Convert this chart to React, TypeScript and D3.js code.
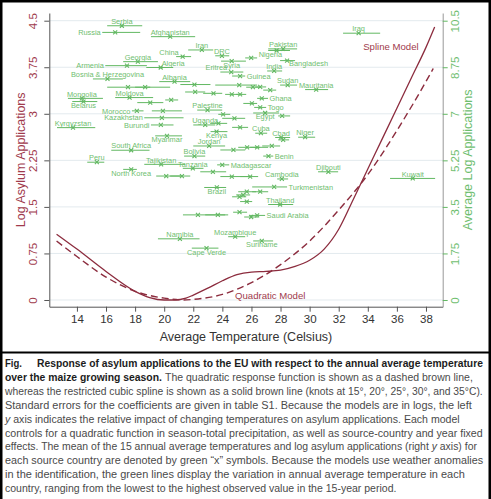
import { useRef, useEffect } from 'react';
import * as d3 from 'd3';

/* ── Source countries: mean & range of annual temperature, mean log applications ── */
const countryNames = [
  "Serbia", "Russia", "Afghanistan", "Iran", "China", "DRC", "Georgia", "Armenia",
  "Algeria", "Syria", "Eritrea", "Guinea", "Pakistan", "Nigeria", "Bangladesh", "India",
  "Sudan", "Mauritania", "Bosnia & Herzegovina", "Albania", "Mongolia", "Belarus", "Moldova",
  "Morocco", "Palestine", "Kazakhstan", "Uganda", "Kyrgyzstan", "Burundi", "Myanmar", "Kenya",
  "Jordan", "South Africa", "Bolivia", "Peru", "Tajikistan", "Tanzania", "North Korea",
  "Madagascar", "Benin", "Djibouti", "Cambodia", "Kuwait", "Iraq", "Turkmenistan", "Brazil",
  "Thailand", "Saudi Arabia", "Namibia", "Mozambique", "Suriname", "Cape Verde", "Ghana",
  "Togo", "Egypt", "Cuba", "Chad", "Niger",
  // unlabelled countries
  "", "", "", "", "", "", "", "", "", "", "", "", "", "", "", "", "", "", "", "",
  "", "", "", "", "", "", "", "", "", "", "", "", "", "", "", "", "", "", "", "",
];

const meanTemp = [
  17.09, 16.63, 20.41, 22.59, 21.27, 23.97, 18.19, 17.44,
  19.76, 24.64, 24.61, 25.22, 28.18, 25.98, 28.45, 27.56,
  28.49, 30.45, 16.10, 20.71, 14.34, 14.45, 17.62,
  18.12, 22.98, 19.84, 22.82, 13.73, 19.77, 20.19, 23.60,
  23.09, 17.73, 22.08, 15.37, 19.79, 21.97, 17.73,
  23.99, 27.17, 31.29, 28.09, 37.09, 33.37, 27.56, 23.62,
  27.97, 26.39, 21.08, 24.88, 26.71, 22.91, 26.71,
  26.60, 26.94, 26.65, 28.04, 29.69,
  22.08, 25.16, 26.10, 26.60, 27.29, 17.51, 18.69, 22.13, 23.39, 24.65,
  25.22, 19.04, 20.48, 26.03, 19.91, 24.05, 24.83, 28.11, 23.73, 25.22,
  28.18, 24.76, 25.70, 26.39, 27.40, 23.35, 20.14, 21.22, 24.65, 25.91,
  25.68, 26.60, 25.43, 25.18, 25.68, 25.18, 22.32, 23.69, 25.98, 27.73,
];

const lowTemp = [
  16.08, 15.74, 19.09, 21.65, 20.82, 23.51, 17.18, 15.95,
  18.77, 23.91, 23.86, 24.67, 27.15, 25.57, 27.97, 27.08,
  27.97, 29.69, 15.10, 19.66, 13.38, 13.68, 16.63,
  17.78, 22.27, 18.63, 22.00, 12.63, 19.09, 19.38, 23.19,
  22.00, 16.36, 21.37, 14.71, 18.63, 21.28, 17.18,
  23.64, 26.81, 30.58, 27.77, 35.53, 32.30, 26.05, 22.75,
  27.15, 25.91, 19.57, 24.40, 26.12, 21.90, 26.39,
  26.19, 26.12, 26.26, 27.63, 29.21,
  21.11, 23.51, 25.64, 26.26, 26.81, 16.08, 18.00, 21.44, 22.68, 24.19,
  24.95, 18.15, 20.07, 25.44, 19.15, 23.72, 23.99, 27.84, 23.16, 24.67,
  27.84, 23.86, 25.09, 25.91, 26.74, 22.48, 19.45, 20.41, 23.86, 25.22,
  25.09, 26.05, 24.95, 24.67, 25.22, 24.74, 21.29, 22.82, 25.50, 27.15,
];

const highTemp = [
  18.49, 18.35, 22.13, 23.37, 21.85, 24.47, 19.57, 18.81,
  20.62, 25.62, 25.44, 25.57, 29.14, 26.39, 29.00, 28.11,
  29.14, 31.27, 17.16, 21.79, 15.79, 15.40, 19.24,
  18.58, 23.99, 21.33, 23.51, 15.26, 20.64, 21.22, 24.35,
  24.19, 18.99, 22.82, 15.88, 21.44, 22.70, 18.12,
  24.47, 27.50, 31.96, 28.52, 38.63, 34.85, 28.45, 24.26,
  28.87, 26.94, 22.43, 25.57, 27.49, 23.73, 27.14,
  27.01, 27.90, 27.08, 28.66, 30.38,
  23.18, 26.39, 26.60, 27.01, 27.70, 19.04, 20.41, 22.82, 23.99, 25.09,
  25.64, 19.94, 20.96, 26.39, 21.22, 24.54, 25.57, 28.66, 24.33, 25.77,
  28.59, 25.57, 26.60, 27.15, 27.97, 24.26, 21.22, 21.79, 25.77, 26.46,
  26.32, 27.15, 25.91, 25.64, 26.05, 25.70, 24.19, 24.40, 26.46, 28.65,
];

const meanLogApps = [
  10.31, 10.06, 9.90, 9.40, 9.15, 9.18, 8.96, 8.81,
  8.74, 8.98, 8.57, 8.42, 9.44, 9.10, 9.00, 8.61,
  8.08, 7.91, 8.31, 8.21, 7.58, 7.46, 7.61,
  7.11, 7.14, 6.85, 6.58, 6.48, 6.58, 6.17, 6.33,
  5.79, 5.63, 5.41, 5.18, 5.10, 4.95, 4.91,
  5.08, 5.41, 4.82, 4.55, 4.57, 10.03, 4.25, 4.23,
  3.59, 3.18, 2.30, 2.38, 2.22, 1.95, 7.58,
  7.24, 7.03, 6.27, 6.11, 6.12,
  8.10, 8.08, 8.00, 8.01, 7.89, 8.00, 8.00, 7.82, 7.77, 7.73,
  7.73, 7.42, 7.52, 7.39, 7.11, 6.98, 6.83, 6.92, 6.64, 6.49,
  6.02, 5.64, 5.74, 5.74, 5.79, 4.82, 4.66, 4.66, 4.64, 4.64,
  4.07, 4.07, 3.95, 3.88, 3.70, 3.30, 3.20, 3.20, 3.12, 9.38,
];

// which side of the marker each country name sits on
const labelSide: Record<string, string> = {
  Russia: "w", Armenia: "w", Morocco: "w", Kazakhstan: "w", Burundi: "w",
  China: "nw", Eritrea: "nw", Algeria: "ne", Bangladesh: "se", Nigeria: "en",
  Guinea: "e", Madagascar: "e", Benin: "e", Turkmenistan: "e", "Saudi Arabia": "e",
  Ghana: "e", Togo: "e",
  Syria: "s", Belarus: "s", Myanmar: "s", Kenya: "s", "North Korea": "s", Brazil: "s",
  Suriname: "s", "Cape Verde": "s", Egypt: "s",
};

/* ── Fitted response curves (left axis) ── */
const splineTemp = [12.6, 14, 16, 18, 19, 20, 20.7, 21.5, 22, 23, 24, 25, 26, 27, 28, 29, 30, 31, 32, 33, 34, 35, 36, 37, 38, 38.6];
const splineLog = [1.06, 0.82, 0.46, 0.14, 0.04, 0.0, 0.0, 0.03, 0.08, 0.19, 0.31, 0.41, 0.45, 0.46, 0.48, 0.54, 0.64, 0.82, 1.14, 1.62, 2.11, 2.6, 3.09, 3.58, 4.07, 4.4];

const quadTemp = [12.6, 14, 16, 18, 20, 21.3, 22, 24, 26, 28, 30, 32, 34, 36, 38, 38.5];
const quadLog = [0.95, 0.7, 0.37, 0.14, 0.03, 0.0, 0.01, 0.09, 0.28, 0.57, 0.95, 1.45, 2.02, 2.73, 3.52, 3.73];

/* ── Axis ticks ── */
const xTicks = [14, 16, 18, 20, 22, 24, 26, 28, 30, 32, 34, 36, 38];
const leftTicks = [0, 0.75, 1.5, 2.25, 3, 3.75, 4.5];
const leftTickLabels = ["0", "0.75", "1.5", "2.25", "3", "3.75", "4.5"];
const rightTicks = [0, 1.75, 3.5, 5.25, 7, 8.75, 10.5];
const rightTickLabels = ["0", "1.75", "3.5", "5.25", "7", "8.75", "10.5"];

/* ── Caption: lines → runs → [text, style] ── */
const captionLines: [string, string][][][] = [
  [[["Fig.", "b"]], [["Response of asylum applications to the EU with respect to the annual average temperature", "b"]]],
  [[["over the maize growing season.", "b"]], [["The quadratic response function is shown as a dashed brown line,", "r"]]],
  [[["whereas the restricted cubic spline is shown as a solid brown line (knots at 15°, 20°, 25°, 30°, and 35°C).", "r"]]],
  [[["Standard errors for the coefficients are given in table S1. Because the models are in logs, the left", "r"]]],
  [[["y", "i"], [" axis indicates the relative impact of changing temperatures on asylum applications. Each model", "r"]]],
  [[["controls for a quadratic function in season-total precipitation, as well as source-country and year fixed", "r"]]],
  [[["effects. The mean of the 15 annual average temperatures and log asylum applications (right ", "r"], ["y", "i"], [" axis) for", "r"]]],
  [[["each source country are denoted by green \u201cx\u201d symbols. Because the models use weather anomalies", "r"]]],
  [[["in the identification, the green lines display the variation in annual average temperature in each", "r"]]],
  [[["country, ranging from the lowest to the highest observed value in the 15-year period.", "r"]]],
];

const MAROON = "#8c2c3e";
const MAROON_TXT = "#a03a4c";
const GREEN = "#62b862";
const GREEN_TXT = "#6fbe6f";
const FONT = "'Liberation Sans', Arial, Helvetica, sans-serif";

function AsylumChart() {
  const svgRef = useRef<SVGSVGElement>(null);

  useEffect(() => {
    const svg = d3.select(svgRef.current);
    svg.selectAll("*").remove();

    const W = 491, H = 499;
    const plot = { left: 49.3, right: 442.7, top: 13, bottom: 306.7 };

    svg.append("rect").attr("width", W).attr("height", H).attr("fill", "#fff");

    const x = d3.scaleLinear().domain([12.1, 39.15]).range([plot.left, plot.right]);
    const yL = d3.scaleLinear().domain([-0.108, 4.624]).range([plot.bottom, plot.top]);
    const yR = d3.scaleLinear().domain([-0.108 * 7 / 3, 4.624 * 7 / 3]).range([plot.bottom, plot.top]);

    const g = svg.append("g").style("font-family", FONT);

    // Grid
    g.append("g").selectAll("line")
      .data(leftTicks)
      .enter().append("line")
      .attr("x1", plot.left).attr("x2", plot.right)
      .attr("y1", d => yL(d)).attr("y2", d => yL(d))
      .attr("stroke", "#e3eaee").attr("stroke-width", 1);

    // Country ranges + markers
    const pts = g.append("g");
    countryNames.forEach((name, i) => {
      const yy = yR(meanLogApps[i]);
      pts.append("line")
        .attr("x1", x(lowTemp[i])).attr("x2", x(highTemp[i]))
        .attr("y1", yy).attr("y2", yy)
        .attr("stroke", GREEN).attr("stroke-width", 1);
      const cx = x(meanTemp[i]);
      pts.append("path")
        .attr("d", `M${cx - 2},${yy - 2}L${cx + 2},${yy + 2}M${cx - 2},${yy + 2}L${cx + 2},${yy - 2}`)
        .attr("stroke", GREEN).attr("stroke-width", 1.1).attr("fill", "none");
    });

    // Country names
    countryNames.forEach((name, i) => {
      if (!name) return;
      const yy = yR(meanLogApps[i]);
      const side = labelSide[name] || "n";
      let lx = x(meanTemp[i]), ly = yy - 1.8, anchor = "middle";
      if (side === "s") { ly = yy + 6.5; }
      else if (side === "e") { lx = x(highTemp[i]) + 1.5; ly = yy + 2.7; anchor = "start"; }
      else if (side === "en") { lx = x(highTemp[i]) + 1.5; ly = yy - 1; anchor = "start"; }
      else if (side === "w") { lx = x(lowTemp[i]) - 1.5; ly = yy + 2.7; anchor = "end"; }
      else if (side === "ne") { lx = x(meanTemp[i]) + 1; anchor = "start"; }
      else if (side === "nw") { lx = x(meanTemp[i]) - 4; anchor = "end"; }
      else if (side === "se") { lx = x(meanTemp[i]) + 2; ly = yy + 5.5; anchor = "start"; }
      pts.append("text")
        .attr("x", lx).attr("y", ly)
        .attr("text-anchor", anchor)
        .style("font-size", "7.4px")
        .attr("fill", GREEN_TXT)
        .text(name);
    });

    // Response curves
    const spline = d3.line<number>()
      .x((d, i) => x(splineTemp[i]))
      .y(d => yL(d))
      .curve(d3.curveMonotoneX);
    const quad = d3.line<number>()
      .x((d, i) => x(quadTemp[i]))
      .y(d => yL(d))
      .curve(d3.curveMonotoneX);

    g.append("path").attr("d", spline(splineLog))
      .attr("fill", "none").attr("stroke", MAROON).attr("stroke-width", 1.3);
    g.append("path").attr("d", quad(quadLog))
      .attr("fill", "none").attr("stroke", MAROON).attr("stroke-width", 1.4)
      .attr("stroke-dasharray", "7,4");

    g.append("text").attr("x", x(33.68)).attr("y", yL(4.03))
      .style("font-size", "9.6px").attr("fill", MAROON_TXT).text("Spline Model");
    g.append("text").attr("x", x(24.87)).attr("y", yL(0.016))
      .style("font-size", "9.6px").attr("fill", MAROON_TXT).text("Quadratic Model");

    // X axis
    const xAxis = g.append("g")
      .attr("transform", `translate(0,${plot.bottom})`)
      .call(d3.axisBottom(x).tickValues(xTicks).tickSize(5).tickSizeOuter(0).tickPadding(3).tickFormat(d3.format("d")));
    xAxis.select(".domain").attr("stroke", "#555");
    xAxis.selectAll(".tick line").attr("stroke", "#555");
    xAxis.selectAll("text").style("font-size", "11.5px").style("font-family", FONT).attr("fill", "#333");

    // Left axis
    const lAxis = g.append("g")
      .attr("transform", `translate(${plot.left},0)`)
      .call(d3.axisLeft(yL).tickValues(leftTicks).tickSize(5).tickSizeOuter(0)
        .tickFormat((d, i) => leftTickLabels[i]));
    lAxis.select(".domain").attr("stroke", "#555");
    lAxis.selectAll(".tick line").attr("stroke", "#555");
    lAxis.selectAll("text")
      .attr("x", null).attr("dy", "0.35em")
      .attr("transform", "translate(-16,0) rotate(-90)")
      .attr("text-anchor", "middle")
      .style("font-size", "11.5px").style("font-family", FONT)
      .attr("fill", MAROON_TXT);

    // Right axis
    const rAxis = g.append("g")
      .attr("transform", `translate(${plot.right},0)`)
      .call(d3.axisRight(yR).tickValues(rightTicks).tickSize(5).tickSizeOuter(0)
        .tickFormat((d, i) => rightTickLabels[i]));
    rAxis.select(".domain").attr("stroke", "#999");
    rAxis.selectAll(".tick line").attr("stroke", GREEN);
    rAxis.selectAll("text")
      .attr("x", null).attr("dy", "0.35em")
      .attr("transform", "translate(12.5,0) rotate(-90)")
      .attr("text-anchor", "middle")
      .style("font-size", "11.5px").style("font-family", FONT)
      .attr("fill", GREEN_TXT);

    // Axis titles
    const midY = (plot.top + plot.bottom) / 2;
    g.append("text")
      .attr("transform", `translate(20.5,${midY}) rotate(-90)`)
      .attr("dy", "0.35em").attr("text-anchor", "middle")
      .style("font-size", "12.5px").attr("fill", MAROON_TXT)
      .text("Log Asylum Applications");
    g.append("text")
      .attr("transform", `translate(468,${midY}) rotate(-90)`)
      .attr("dy", "0.35em").attr("text-anchor", "middle")
      .style("font-size", "12.5px").attr("fill", GREEN_TXT)
      .text("Average Log Applications");
    g.append("text")
      .attr("x", (plot.left + plot.right) / 2).attr("y", 341)
      .attr("text-anchor", "middle")
      .style("font-size", "12.5px").attr("fill", "#333")
      .text("Average Temperature (Celsius)");

    // Caption — each run is squeezed horizontally to its column width
    const runX = [[5, 37], [5, 165], [5], [5], [5], [5], [5], [5], [5], [5]];
    const runW = [[17, 446], [157, 308], [478], [467], [455], [478], [472], [478], [460], [392]];
    const cap = svg.append("g").style("font-family", FONT);
    captionLines.forEach((runs, li) => {
      const baseY = 367 + li * 13.9;
      runs.forEach((segs, ri) => {
        const t = cap.append("text")
          .attr("x", 0).attr("y", 0)
          .style("font-size", "10.6px")
          .style("white-space", "pre");
        segs.forEach(([txt, st]) => {
          t.append("tspan")
            .attr("font-weight", st === "b" ? "bold" : "normal")
            .attr("font-style", st === "i" ? "italic" : "normal")
            .attr("fill", st === "b" ? "#1c1c1c" : "#4a4a4a")
            .text(txt);
        });
        const natural = (t.node() as SVGTextElement).getComputedTextLength() || runW[li][ri];
        const sx = runW[li][ri] / natural;
        t.attr("transform", `translate(${runX[li][ri]},${baseY}) scale(${sx},1)`);
      });
    });

    // Frame
    const frame = svg.append("g").attr("fill", "#000");
    frame.append("rect").attr("x", 0).attr("y", 0).attr("width", W).attr("height", 2.5);
    frame.append("rect").attr("x", 0).attr("y", 0).attr("width", 2.5).attr("height", H);
    frame.append("rect").attr("x", W - 2.5).attr("y", 0).attr("width", 2.5).attr("height", H);
    frame.append("rect").attr("x", 0).attr("y", 351.5).attr("width", W).attr("height", 2);
  }, []);

  return <svg ref={svgRef} width={491} height={499} style={{ display: "block" }}></svg>;
}

export default function App() {
  return (
    <>
      <style>{`body{margin:0}`}</style>
      <AsylumChart />
    </>
  );
}
